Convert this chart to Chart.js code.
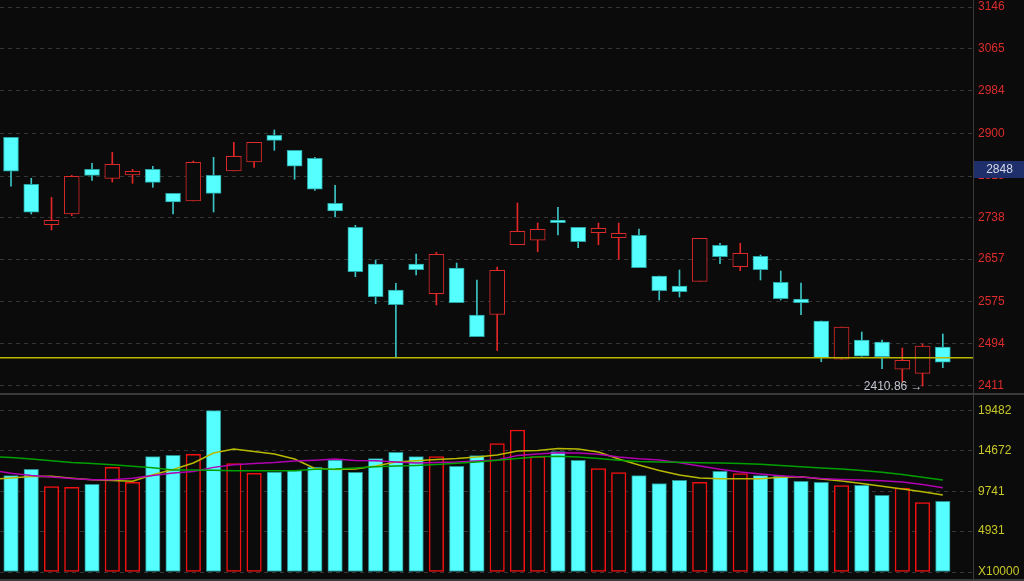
<!DOCTYPE html>
<html>
<head>
<meta charset="utf-8">
<script src="https://cdn.jsdelivr.net/npm/chart.js@4.4.1/dist/chart.umd.min.js"></script>
<style>
  html, body { margin: 0; padding: 0; background: #0b0b0b; overflow: hidden; }
  #wrap { position: relative; width: 1024px; height: 581px; }
  canvas { position: absolute; left: 0; }
  #priceChart { top: 0; }
  #volChart { top: 396px; }
  .sep { position: absolute; background: #3a3a3a; }
</style>
</head>
<body>
<div id="wrap">
  <canvas id="priceChart" width="1024" height="393"></canvas>
  <canvas id="volChart" width="1024" height="185"></canvas>
  <div class="sep" style="left:0;top:393px;width:1024px;height:2px"></div>
  <div class="sep" style="left:0;top:579px;width:1024px;height:2px"></div>
  <div class="sep" style="left:973px;top:0;width:1px;height:581px"></div>
</div>
<script>
// daily candles, oldest first
const open  = [2893.3, 2802.2, 2723.8, 2744.6, 2831.2, 2813.8, 2820.2, 2831.2, 2784.7, 2769.8, 2819.6, 2828.0, 2845.4, 2897.2, 2868.1, 2852.6, 2765.3, 2718.8, 2647.6, 2597.2, 2647.6, 2590.0, 2639.8, 2548.7, 2550.0, 2685.0, 2693.6, 2732.9, 2718.8, 2708.3, 2698.6, 2703.3, 2624.3, 2604.9, 2614.0, 2683.9, 2642.4, 2662.5, 2612.1, 2579.7, 2537.1, 2462.8, 2500.2, 2496.3, 2443.4, 2435.6, 2486.6];
const high  = [2893.3, 2813.8, 2776.9, 2819.6, 2842.9, 2864.2, 2831.2, 2837.1, 2784.7, 2847.3, 2854.5, 2883.6, 2883.6, 2907.5, 2868.1, 2854.5, 2800.2, 2722.6, 2655.4, 2610.2, 2667.0, 2670.3, 2649.5, 2616.6, 2641.8, 2765.9, 2727.1, 2757.6, 2718.8, 2727.1, 2727.1, 2715.5, 2624.3, 2636.0, 2697.4, 2687.7, 2687.7, 2665.0, 2634.0, 2610.7, 2537.1, 2525.4, 2515.7, 2500.2, 2484.7, 2492.5, 2511.8];
const low   = [2798.3, 2744.6, 2713.5, 2741.3, 2809.9, 2806.6, 2804.1, 2796.3, 2744.6, 2769.8, 2748.4, 2828.0, 2835.1, 2868.1, 2811.9, 2790.5, 2738.7, 2623.0, 2570.6, 2465.9, 2626.3, 2568.1, 2572.5, 2506.6, 2479.5, 2685.0, 2671.5, 2703.8, 2679.2, 2685.0, 2656.7, 2640.4, 2577.8, 2583.6, 2614.0, 2648.2, 2634.6, 2616.6, 2577.8, 2549.3, 2458.1, 2462.8, 2468.6, 2444.5, 2419.3, 2410.86, 2446.5];
const close = [2827.4, 2747.9, 2732.3, 2817.7, 2819.6, 2840.9, 2827.4, 2806.0, 2767.8, 2844.8, 2784.7, 2856.5, 2883.6, 2887.5, 2837.1, 2792.5, 2750.4, 2632.7, 2584.2, 2568.7, 2636.5, 2666.4, 2572.5, 2506.6, 2635.4, 2711.0, 2714.9, 2727.7, 2690.8, 2716.8, 2707.1, 2640.4, 2595.8, 2593.9, 2697.4, 2661.8, 2668.3, 2636.5, 2580.3, 2572.5, 2465.9, 2525.4, 2468.6, 2467.8, 2460.8, 2488.6, 2457.0];

// volume in units of 10000
const volume = [11633, 12406, 10304, 10232, 10594, 12648, 10836, 13928, 14097, 14218, 19482, 13083, 11923, 12080, 12237, 12648, 13530, 12044, 13687, 14460, 13928, 13928, 12769, 14049, 15499, 17154, 13928, 14532, 13493, 12479, 11995, 11633, 10667, 11077, 10836, 12165, 11875, 11633, 11561, 10957, 10836, 10425, 10473, 9265, 10147, 8371, 8541];

// volume averages, first value is the day before the window
const maShort = [11174, 11367, 11524, 11573, 11331, 11138, 11053, 10957, 11742, 12382, 13167, 14375, 14858, 14556, 14254, 13650, 12503, 12382, 12442, 12805, 13288, 13445, 13590, 13711, 13892, 14134, 14617, 14677, 14919, 14858, 14496, 13650, 12926, 12261, 11718, 11355, 11271, 11271, 11271, 11440, 11500, 11234, 10993, 10691, 10353, 10026, 9688, 9302];
const maMid   = [12322, 11923, 11645, 11476, 11283, 11150, 11138, 11331, 11669, 11959, 12140, 12636, 12950, 13095, 13216, 13409, 13505, 13650, 13481, 13445, 13288, 13167, 13228, 13288, 13409, 13530, 14061, 14254, 14399, 14375, 14230, 13892, 13675, 13530, 13191, 12805, 12406, 12068, 11826, 11621, 11464, 11295, 11186, 11114, 11029, 10860, 10582, 10183];
const maLong  = [13952, 13820, 13650, 13433, 13228, 13119, 12962, 12781, 12599, 12322, 12322, 12285, 12237, 12237, 12237, 12237, 12406, 12442, 12563, 12708, 12805, 12877, 12986, 13131, 13300, 13493, 13699, 13928, 13976, 13892, 13711, 13505, 13348, 13300, 13252, 13203, 13167, 13107, 13010, 12865, 12720, 12563, 12442, 12261, 12056, 11778, 11440, 11114];

const priceTicks = [2411, 2494, 2575, 2657, 2738, 2818, 2900, 2984, 3065, 3146];
const volTicks = [0, 4931, 9741, 14672, 19482];
const volTickLabels = ['X10000', '4931', '9741', '14672', '19482'];
const supportLevel = 2466;
const lastPriceTag = 2848;

const BG = '#0b0b0b';
const CYAN = '#55ffff';
const RED = '#dc2a2a';
const FONT = '"Liberation Sans", "DejaVu Sans", Arial, sans-serif';

const days = open.map((v, i) => i);
const isUp = days.map(i => close[i] >= open[i]);

// no offset: index 0 sits 11px in from the left edge
const xAxis = { type: 'linear', min: -0.543, max: 47.49, offset: false, display: false };

function fitRight(s) {
  s.width = 51;
  s.paddingTop = 0;
  s.paddingBottom = 0;
}

const priceOverlay = {
  id: 'priceOverlay',
  afterDatasetsDraw(chart) {
    const { ctx, chartArea, scales } = chart;
    const y = scales.y.getPixelForValue(supportLevel);
    ctx.save();
    ctx.strokeStyle = '#b8b800';
    ctx.lineWidth = 1.5;
    ctx.beginPath();
    ctx.moveTo(chartArea.left, y);
    ctx.lineTo(chartArea.right, y);
    ctx.stroke();

    // lowest low marker
    let lo = 0;
    low.forEach((v, i) => { if (v < low[lo]) lo = i; });
    ctx.fillStyle = '#c2c6d0';
    ctx.font = '12px ' + FONT;
    ctx.textAlign = 'right';
    ctx.textBaseline = 'middle';
    ctx.fillText(low[lo].toFixed(2) + ' \u2192', scales.x.getPixelForValue(lo), scales.y.getPixelForValue(low[lo]) + 1);
    ctx.restore();
  },
  afterDraw(chart) {
    const { ctx, chartArea, scales } = chart;
    const y = Math.round(scales.y.getPixelForValue(lastPriceTag));
    ctx.save();
    ctx.fillStyle = '#1e2f6c';
    ctx.fillRect(chartArea.right + 1, y, chart.width - chartArea.right - 1, 17);
    ctx.fillStyle = '#d5dae6';
    ctx.font = '12px ' + FONT;
    ctx.textAlign = 'center';
    ctx.textBaseline = 'middle';
    ctx.fillText(String(lastPriceTag), (chartArea.right + chart.width) / 2 + 1, y + 9);
    ctx.restore();
  }
};

new Chart(document.getElementById('priceChart'), {
  type: 'bar',
  data: {
    datasets: [{
      // candle bodies
      data: days.map(i => ({ x: i, y: [open[i], close[i]] })),
      backgroundColor: days.map(i => isUp[i] ? BG : CYAN),
      borderColor: days.map(i => isUp[i] ? RED : '#2aa5a5'),
      borderWidth: 1,
      borderSkipped: false,
      barThickness: 15,
      minBarLength: 1,
      grouped: false,
      order: 1
    }, {
      // wicks
      data: days.map(i => ({ x: i, y: [low[i], high[i]] })),
      backgroundColor: days.map(i => isUp[i] ? '#e02626' : '#3cc4c4'),
      borderWidth: 0,
      barThickness: 1,
      grouped: false,
      order: 2
    }]
  },
  options: {
    responsive: false,
    animation: false,
    events: [],
    layout: { padding: 0 },
    plugins: { legend: { display: false }, tooltip: { enabled: false } },
    scales: {
      x: xAxis,
      y: {
        type: 'linear',
        position: 'right',
        min: 2397.4,
        max: 3159.6,
        afterBuildTicks: a => { a.ticks = priceTicks.map(v => ({ value: v })); },
        afterFit: fitRight,
        ticks: { color: '#dc2c2c', font: { family: FONT, size: 12 }, padding: 5, autoSkip: false, callback: v => String(v) },
        grid: { color: '#363636', lineWidth: 1, drawTicks: false },
        border: { display: false, dash: [4, 4] }
      }
    }
  },
  plugins: [priceOverlay]
});

function maLine(values, color) {
  return {
    type: 'line',
    data: values.map((v, i) => ({ x: i - 1, y: v })),
    borderColor: color,
    borderWidth: 1.5,
    pointRadius: 0,
    tension: 0,
    order: 0
  };
}

new Chart(document.getElementById('volChart'), {
  type: 'bar',
  data: {
    datasets: [
      maLine(maLong, '#00a000'),
      maLine(maMid, '#b000b0'),
      maLine(maShort, '#b8b800'),
      {
        data: days.map(i => ({ x: i, y: volume[i] })),
        backgroundColor: days.map(i => isUp[i] ? BG : CYAN),
        borderColor: days.map(i => isUp[i] ? '#f01010' : '#2a9090'),
        borderWidth: days.map(i => isUp[i] ? 1.5 : 1),
        borderSkipped: false,
        barThickness: 14.5,
        grouped: false,
        order: 1
      }
    ]
  },
  options: {
    responsive: false,
    animation: false,
    events: [],
    layout: { padding: { top: 0, bottom: 9, left: 0, right: 0 } },
    plugins: { legend: { display: false }, tooltip: { enabled: false } },
    scales: {
      x: xAxis,
      y: {
        type: 'linear',
        position: 'right',
        min: 0,
        max: 21257,
        afterBuildTicks: a => { a.ticks = volTicks.map(v => ({ value: v })); },
        afterFit: fitRight,
        ticks: { color: '#c8c82a', font: { family: FONT, size: 12 }, padding: 5, autoSkip: false, callback: (v, i) => volTickLabels[i] },
        grid: { color: '#363636', lineWidth: 1, drawTicks: false },
        border: { display: false, dash: [4, 4] }
      }
    }
  }
});
</script>
</body>
</html>
